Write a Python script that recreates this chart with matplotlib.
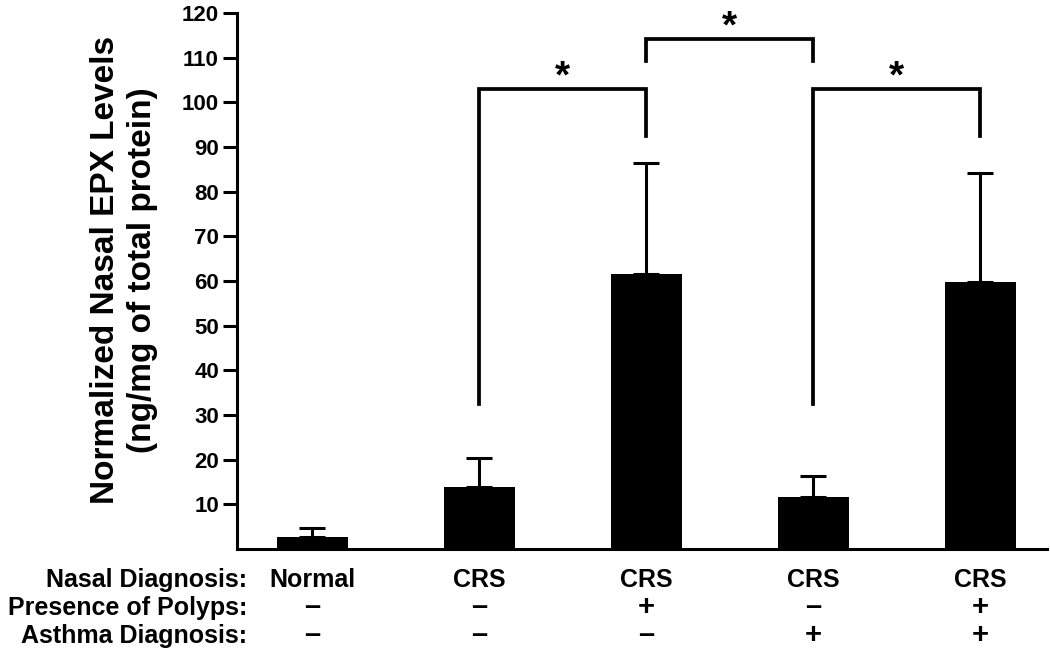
import matplotlib.pyplot as plt
import numpy as np

plt.rcParams['font.family'] = ['Liberation Sans', 'DejaVu Sans']
plt.rcParams['font.weight'] = 'bold'

# Data
groups = ['Normal', 'CRS', 'CRS', 'CRS', 'CRS']
polyps = ['\u2013', '\u2013', '+', '\u2013', '+']
asthma = ['\u2013', '\u2013', '\u2013', '+', '+']
means = [2.75, 13.8, 61.5, 11.6, 59.7]
errors = [1.85, 6.5, 25.0, 4.8, 24.5]

# significance brackets: (left, right, top, left leg end, right leg end)
brackets = [(1, 2, 103.0, 32.5, 92.5),
            (2, 3, 114.2, 109.2, 109.2),
            (3, 4, 103.0, 32.5, 92.5)]

row_labels = ['Nasal Diagnosis:', 'Presence of Polyps:', 'Asthma Diagnosis:']

fig = plt.figure(figsize=(10.5, 6.51), dpi=100)
ax = fig.add_axes([237 / 1050, 1 - 549 / 651, (1047 - 237) / 1050, (549 - 13) / 651])

x = np.arange(len(means))
ax.bar(x, means, width=0.425, color='black')
ax.errorbar(x, means, yerr=[np.zeros(len(errors)), errors], fmt='none',
            ecolor='black', elinewidth=2.2, capsize=9.7, capthick=2.2)

for l, r, top, ly, ry in brackets:
    ax.plot([l, l, r, r], [ly, top, top, ry], color='black', lw=2.7,
            solid_joinstyle='miter', clip_on=False)
    ax.text((l + r) / 2, top + 0.3, '*', ha='center', va='baseline',
            fontsize=28, fontweight='bold', clip_on=False)

ax.set_xlim(-0.45, 4.4)
ax.set_ylim(0, 120)
ax.set_yticks(range(10, 121, 10))
ax.tick_params(axis='y', labelsize=16, width=2.2, length=10, pad=3)
ax.set_xticks([])
for lab in ax.get_yticklabels():
    lab.set_fontweight('bold')
ax.spines['top'].set_visible(False)
ax.spines['right'].set_visible(False)
ax.spines['left'].set_linewidth(2.2)
ax.spines['bottom'].set_linewidth(2.2)
ax.spines['left'].set_bounds(0, 120)

ax.set_ylabel('Normalized Nasal EPX Levels\n(ng/mg of total protein)',
              fontsize=24, fontweight='bold', linespacing=1.25)
ax.yaxis.set_label_coords(-0.0975, 0.52)

# table beneath the bars
trans = ax.get_xaxis_transform()
rows_y = [-0.0703, -0.1231, -0.176]
for ry, lab, vals in zip(rows_y, row_labels, [groups, polyps, asthma]):
    ax.text(247 / 1050, 1 - (549 - ry * 536) / 651, lab, transform=fig.transFigure,
            ha='right', va='baseline', fontsize=18, fontweight='bold')
    for xi, v in zip(x, vals):
        ax.text(xi, ry, v, transform=trans, ha='center', va='baseline',
                fontsize=18 if v not in ('+', '\u2013') else 21, fontweight='bold')

fig.savefig('out.png', dpi=100)
